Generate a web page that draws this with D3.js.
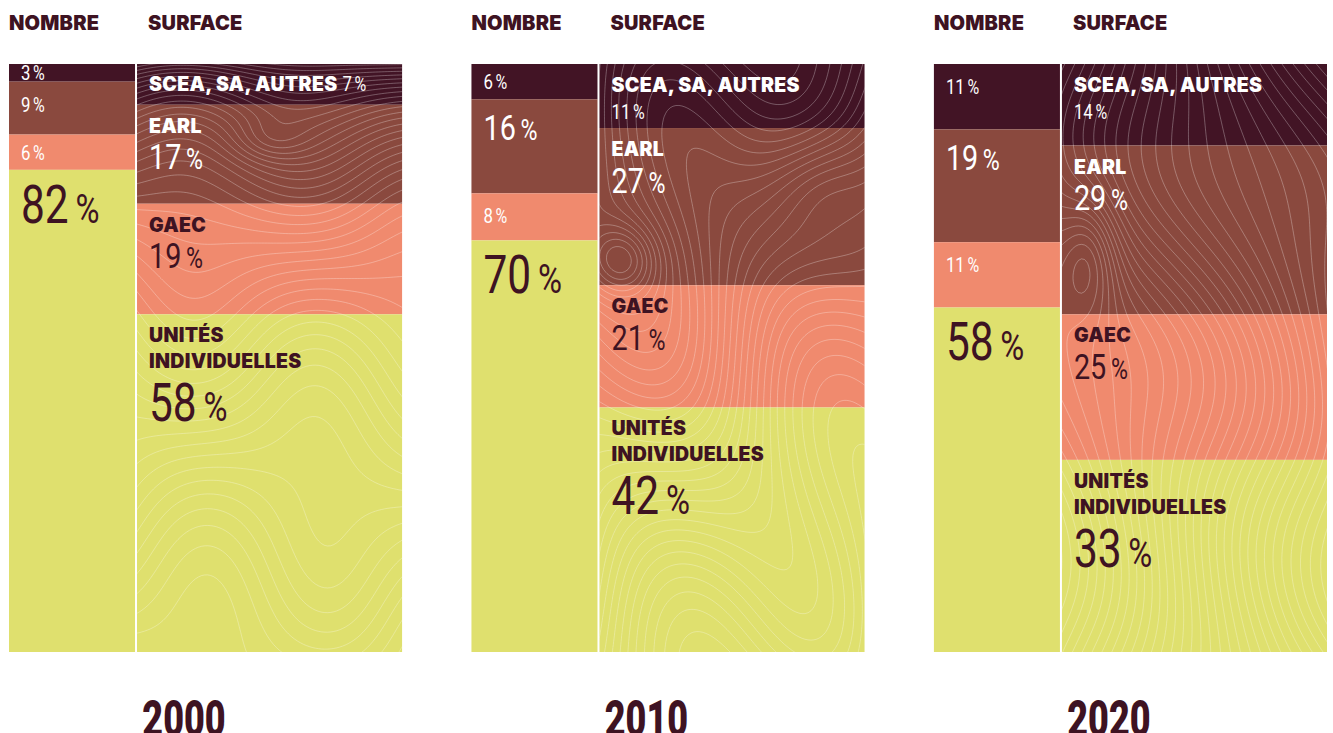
<!DOCTYPE html>
<html><head><meta charset="utf-8">
<script src="https://cdn.jsdelivr.net/npm/d3@7"></script>
<style>body{margin:0;background:#fff}svg{display:block}</style>
</head><body><svg id="c" width="1333" height="733"></svg>
<script>
// ---------- data ----------
const years = ["2000", "2010", "2020"];
const measures = ["NOMBRE", "SURFACE"];
const categories = ["SCEA, SA, AUTRES", "EARL", "GAEC", "UNITÉS INDIVIDUELLES"];
const categoryLines = [["SCEA, SA, AUTRES"], ["EARL"], ["GAEC"], ["UNITÉS", "INDIVIDUELLES"]];
const nombre2000 = [3, 9, 6, 82];
const nombre2010 = [6, 16, 8, 70];
const nombre2020 = [11, 19, 11, 58];
const surface2000 = [7, 17, 19, 58];
const surface2010 = [11, 27, 21, 42];
const surface2020 = [14, 29, 25, 33];
const nombreByYear = [nombre2000, nombre2010, nombre2020];
const surfaceByYear = [surface2000, surface2010, surface2020];

// ---------- style ----------
const DARK = "#3e1322";
const colors = d3.scaleOrdinal().domain(categories).range(["#421425", "#8a493e", "#f08a6e", "#dfe06e"]);
const textColor = d3.scaleOrdinal().domain(categories).range(["#fff", "#fff", DARK, DARK]);
const nombreText = d3.scaleOrdinal().domain(categories).range(["#fff", "#fff", "#fff", DARK]);
const HEAVY = "Inter, Roboto, sans-serif";
const NUM = "Roboto, 'Noto Sans', sans-serif";

const svg = d3.select("#c");
const x = d3.scaleBand().domain(years).range([9, 1327]).paddingInner(0.15);
const bw = x.bandwidth();
const nombreW = bw * 0.3206, gapW = 2;
const yTop = 64, yBottom = 652;

function valueSize(v) { return v < 15 ? 21 : v < 30 ? 36 : 53; }
function pctSize(v) { return v < 15 ? 20 : v < 30 ? 29 : 41; }
const CAP = 0.711;
const SX = 0.8;

function drawValue(g, xPos, baseline, v, color) {
  const fs = valueSize(v);
  const t = g.append("text")
    .attr("transform", `translate(${xPos},${baseline}) scale(${SX},1)`)
    .attr("fill", color)
    .attr("font-family", NUM)
    .attr("font-weight", 400);
  t.append("tspan").attr("font-size", fs).text(v);
  t.append("tspan").attr("font-size", pctSize(v)).attr("dx", fs * 0.16).text("%");
  return t;
}

// contour texture fields (decorative)
const fields = [
  (X, Y) => 4.0 * Math.pow(Y + 0.3, 0.3)
    + 0.18 * Math.sin(2.2 * X + 1.3 * Y) + 0.1 * Math.sin(3.1 * X - 1.6 * Y + 1.0)
    - 0.25 * Math.exp(-((X - 1.3) ** 2 / 0.15 + (Y - 0.75) ** 2 / 0.05)),
  (X, Y) => 0.5 * X + 0.4 * Y
    + 0.45 * Math.sin(1.8 * X + 0.5) * Math.cos(1.1 * Y)
    + 0.2 * Math.sin(2.6 * X - 1.4 * Y + 0.7)
    - 0.7 * Math.exp(-((X - 0.2) ** 2 + (Y - 1.95) ** 2) / 0.12)
    + 0.5 * Math.exp(-((X - 2.2) ** 2 + (Y - 1.2) ** 2) / 0.3),
  (X, Y) => 1.0 * X - 0.15 * Y
    + 0.35 * Math.sin(1.0 * Y + 0.9 * X + 0.3)
    + 0.15 * Math.sin(2.2 * Y - 1.3 * X)
    - 0.6 * Math.exp(-((X - 0.25) ** 2 / 0.08 + (Y - 1.9) ** 2 / 0.35))
];
const steps = [0.1, 0.11, 0.11];

const defs = svg.append("defs");

years.forEach((yr, gi) => {
  const gx = x(yr);
  const g = svg.append("g");

  // headers
  g.append("text").attr("x", gx).attr("y", 30).attr("font-family", HEAVY).attr("font-weight", 900)
    .attr("font-size", 20).attr("letter-spacing", 0.2).attr("fill", DARK).text(measures[0]);
  g.append("text").attr("x", gx + nombreW + gapW + 11).attr("y", 30).attr("font-family", HEAVY).attr("font-weight", 900)
    .attr("font-size", 20).attr("letter-spacing", 0.2).attr("fill", DARK).text(measures[1]);

  // ----- NOMBRE bar -----
  const nv = nombreByYear[gi];
  const ny = d3.scaleLinear().domain([0, d3.sum(nv)]).range([yTop, yBottom]);
  const ncum = [0, ...d3.cumsum(nv)];
  nv.forEach((v, i) => {
    const y0 = ny(ncum[i]), y1 = ny(ncum[i + 1]);
    g.append("rect").attr("x", gx).attr("y", y0).attr("width", nombreW).attr("height", y1 - y0)
      .attr("fill", colors(categories[i]));
  });
  nv.forEach((v, i) => {
    const y0 = ny(ncum[i]), y1 = ny(ncum[i + 1]);
    const h = y1 - y0;
    const cap = valueSize(v) * CAP;
    const gap = Math.max(1, Math.min((h - cap) / 2, 15));
    drawValue(g, gx + 12, y0 + gap + cap, v, nombreText(categories[i]));
  });

  // ----- SURFACE bar -----
  const sx0 = gx + nombreW + gapW, sw = bw - nombreW - gapW;
  const sv = surfaceByYear[gi];
  const sy = d3.scaleLinear().domain([0, d3.sum(sv)]).range([yTop, yBottom]);
  const scum = [0, ...d3.cumsum(sv)];
  sv.forEach((v, i) => {
    const y0 = sy(scum[i]), y1 = sy(scum[i + 1]);
    g.append("rect").attr("x", sx0).attr("y", y0).attr("width", sw).attr("height", y1 - y0)
      .attr("fill", colors(categories[i]));
  });

  // contour texture
  const clipId = "clip" + gi;
  defs.append("clipPath").attr("id", clipId).append("rect")
    .attr("x", sx0).attr("y", yTop).attr("width", sw).attr("height", yBottom - yTop);
  const cell = 3, margin = 6;
  const nx = Math.ceil((sw + 2 * margin) / cell), nyy = Math.ceil((yBottom - yTop + 2 * margin) / cell);
  const vals = new Array(nx * nyy);
  const f = fields[gi];
  for (let j = 0; j < nyy; j++) for (let i = 0; i < nx; i++) {
    const px = i * cell - margin, py = j * cell - margin;
    vals[i + j * nx] = f(px / 100, py / 100);
  }
  const ext = d3.extent(vals);
  const st = steps[gi];
  const th = d3.range(Math.ceil(ext[0] / st) * st, ext[1], st);
  const contours = d3.contours().size([nx, nyy]).thresholds(th)(vals);
  const path = d3.geoPath(d3.geoIdentity().scale(cell).translate([sx0 - margin, yTop - margin]));
  g.append("g").attr("clip-path", `url(#${clipId})`)
    .selectAll("path").data(contours).join("path")
    .attr("d", path).attr("fill", "none")
    .attr("stroke", "#fff").attr("stroke-opacity", 0.36).attr("stroke-width", 0.8);

  // surface labels
  const LFS = 19.5, LLS = 0.3;
  sv.forEach((v, i) => {
    const y0 = sy(scum[i]), y1 = sy(scum[i + 1]);
    const h = y1 - y0;
    const col = textColor(categories[i]);
    const lx = sx0 + 12;
    const lines = categoryLines[i];
    if (h < 50) {
      const base = y0 + h / 2 + 7;
      const t = g.append("text").attr("x", lx).attr("y", base).attr("font-family", HEAVY).attr("font-weight", 900)
        .attr("font-size", LFS).attr("letter-spacing", LLS).attr("fill", col).text(lines.join(" "));
      const wlen = t.node().getComputedTextLength();
      drawValue(g, lx + wlen + 5, base, v, col);
    } else {
      let base = y0 + 28;
      lines.forEach((ln, k) => {
        g.append("text").attr("x", lx).attr("y", base + k * 26).attr("font-family", HEAVY).attr("font-weight", 900)
          .attr("font-size", LFS).attr("letter-spacing", LLS).attr("fill", col).text(ln);
      });
      base += (lines.length - 1) * 26;
      const fs = valueSize(v);
      drawValue(g, lx, base + fs * CAP + (fs < 25 ? 12 : fs < 40 ? 11 : 15), v, col);
    }
  });

  // year
  g.append("text").attr("transform", `translate(${gx + 175},${700 + 50 * CAP}) scale(0.72,1)`)
    .attr("text-anchor", "middle").attr("font-family", "Roboto, sans-serif").attr("font-weight", 900)
    .attr("font-size", 50).attr("fill", DARK).text(yr);
});
</script></body></html>
